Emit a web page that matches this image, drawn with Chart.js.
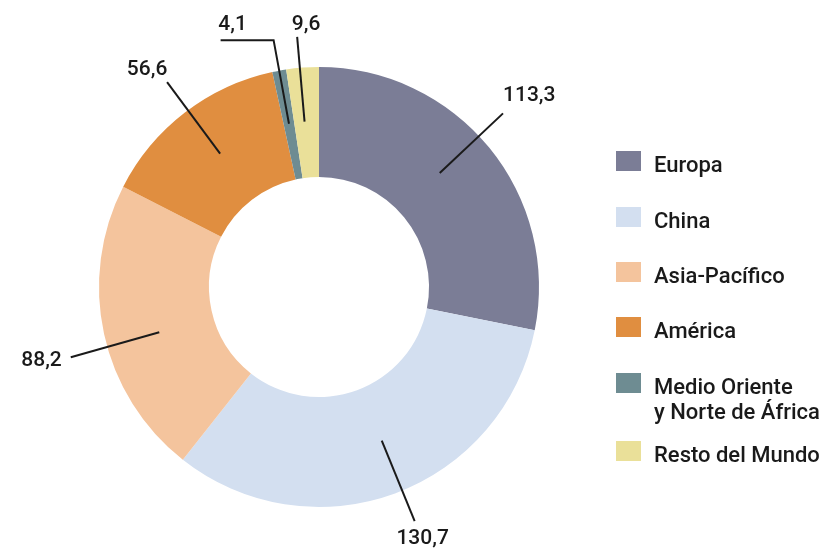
<!DOCTYPE html>
<html>
<head>
<meta charset="utf-8">
<script src="https://cdn.jsdelivr.net/npm/chart.js@4/dist/chart.umd.min.js"></script>
<style>
  html, body { margin: 0; padding: 0; background: #fff; }
  #wrap { position: relative; width: 838px; height: 554px; }
</style>
</head>
<body>
<div id="wrap"><canvas id="ventasChart"></canvas></div>
<script>
// Datos del gráfico
const regiones = ['Europa', 'China', 'Asia-Pacífico', 'América', ['Medio Oriente', 'y Norte de África'], 'Resto del Mundo'];
const valores = [113.3, 130.7, 88.2, 56.6, 4.1, 9.6];
const colores = ['#7b7d96', '#d3dff0', '#f4c49d', '#e08e40', '#6e8c92', '#eae099'];

// Posición de las etiquetas (estilo, no datos)
const etiquetas = [
  { giro: -4,   rExt: 253, dx: 0,   dy: -18, align: 'left' },
  { giro: -2,   rExt: 253, dx: 8,   dy: 18,  align: 'center' },
  { giro: -3.5, rExt: 258, dx: -9,  dy: 3,   align: 'right' },
  { giro: 1,    rExt: 255, dx: -20, dy: -12, align: 'center' },
  { giro: 0,    rExt: 251, dx: -41, dy: -15, align: 'center', codo: 53 },
  { giro: -0.7, rExt: 251, dx: 9,   dy: -12, align: 'center' }
];
const filasLeyenda = [151, 207, 262, 317, 373, 441];

const fuenteValores = '500 21px Roboto, "Noto Sans", sans-serif';
const fuenteLeyenda = '500 22px Roboto, "Noto Sans", sans-serif';
const tinta = '#1a1a1a';

function formatear(v) {
  return String(v).replace('.', ',');
}

// Dibuja las líneas guía y los valores de cada sector
const pluginEtiquetas = {
  id: 'etiquetas',
  afterDraw(chart) {
    const ctx = chart.ctx;
    const meta = chart.getDatasetMeta(0);
    ctx.save();
    ctx.strokeStyle = tinta;
    ctx.fillStyle = tinta;
    ctx.lineWidth = 2;
    ctx.font = fuenteValores;
    ctx.textBaseline = 'middle';
    meta.data.forEach((arc, i) => {
      const p = arc.getProps(['x', 'y', 'startAngle', 'endAngle', 'innerRadius', 'outerRadius']);
      const cfg = etiquetas[i];
      const ang = (p.startAngle + p.endAngle) / 2 + cfg.giro * Math.PI / 180;
      const rInt = (p.innerRadius + p.outerRadius) / 2 + 1;
      const x1 = p.x + Math.cos(ang) * rInt;
      const y1 = p.y + Math.sin(ang) * rInt;
      const x2 = p.x + Math.cos(ang) * cfg.rExt;
      const y2 = p.y + Math.sin(ang) * cfg.rExt;
      ctx.beginPath();
      ctx.moveTo(x1, y1);
      ctx.lineTo(x2, y2);
      if (cfg.codo) {
        ctx.lineTo(x2 - cfg.codo, y2);
      }
      ctx.stroke();
      ctx.textAlign = cfg.align;
      ctx.fillText(formatear(valores[i]), x2 + cfg.dx, y2 + cfg.dy);
    });
    ctx.restore();
  }
};

// Leyenda a la derecha
const pluginLeyenda = {
  id: 'leyendaDerecha',
  afterDraw(chart) {
    const ctx = chart.ctx;
    const labels = chart.data.labels;
    ctx.save();
    ctx.font = fuenteLeyenda;
    ctx.textBaseline = 'alphabetic';
    ctx.textAlign = 'left';
    labels.forEach((lab, i) => {
      const top = filasLeyenda[i];
      ctx.fillStyle = colores[i];
      ctx.fillRect(616, top, 25, 20);
      ctx.fillStyle = tinta;
      const lineas = Array.isArray(lab) ? lab : [lab];
      lineas.forEach((t, j) => {
        ctx.fillText(t, 654, top + 21 + j * 25);
      });
    });
    ctx.restore();
  }
};

new Chart(document.getElementById('ventasChart'), {
  type: 'doughnut',
  data: {
    labels: regiones,
    datasets: [{
      data: valores,
      backgroundColor: colores,
      borderWidth: 0
    }]
  },
  options: {
    responsive: true,
    maintainAspectRatio: false,
    animation: false,
    cutout: '50%',
    layout: { padding: { left: 99, top: 67, right: 299, bottom: 47 } },
    plugins: {
      legend: { display: false },
      tooltip: { enabled: false }
    }
  },
  plugins: [pluginEtiquetas, pluginLeyenda]
});
</script>
</body>
</html>
